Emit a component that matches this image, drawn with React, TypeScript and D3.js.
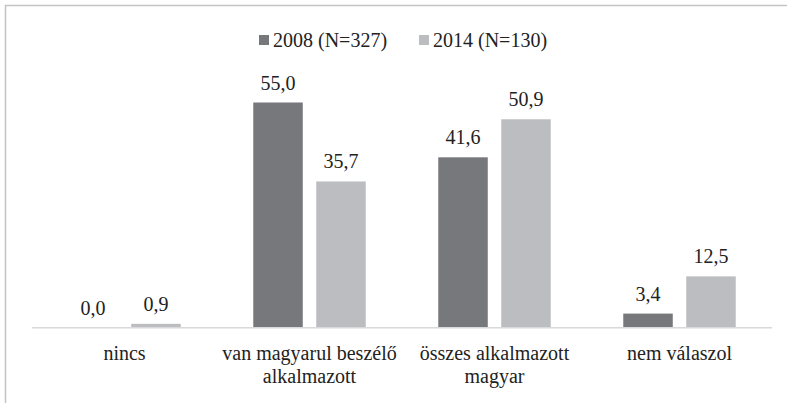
import React, { useEffect, useRef } from "react";
import * as d3 from "d3";

const categories = ["nincs", "van magyarul beszélő alkalmazott", "összes alkalmazott magyar", "nem válaszol"];
const categoryLines = [["nincs"], ["van magyarul beszélő", "alkalmazott"], ["összes alkalmazott", "magyar"], ["nem válaszol"]];
const seriesNames = ["2008 (N=327)", "2014 (N=130)"];
const values2008 = [0.0, 55.0, 41.6, 3.4];
const values2014 = [0.9, 35.7, 50.9, 12.5];
const seriesColors = ["#77787b", "#bcbdc0"];

const W = 787;
const H = 403;
const FONT = "Liberation Serif";

export default function App() {
  const ref = useRef<SVGSVGElement | null>(null);

  useEffect(() => {
    const svg = d3.select(ref.current!);
    svg.selectAll("*").remove();
    const x0 = d3.scaleBand<string>().domain(categories).range([32, 772]).paddingInner(0.392).paddingOuter(0.196);
    const x1 = d3.scaleBand<string>().domain(seriesNames).range([0, x0.bandwidth()]).paddingInner(0.214);
    const y = d3.scaleLinear().domain([0, 55]).range([327.5, 102.5]);
    const series = [values2008, values2014];
    const fmt = (v: number) => v.toFixed(1).replace(".", ",");
    const legendX = [259, 419];

    svg.append("rect").attr("x", 5.5).attr("y", 5.5).attr("width", 900).attr("height", 500)
      .attr("fill", "#fff").attr("stroke", "#c4c4c4").attr("stroke-width", 1.5);

    seriesNames.forEach((s, i) => {
      svg.append("rect").attr("x", legendX[i]).attr("y", 35).attr("width", 10).attr("height", 10).attr("fill", seriesColors[i]);
      svg.append("text").attr("x", legendX[i] + 14).attr("y", 46.5)
        .style("font-family", FONT).style("font-size", "20px").attr("fill", "#222").text(s);
    });

    categories.forEach((c, ci) => {
      const g = svg.append("g").attr("transform", `translate(${x0(c)},0)`);
      seriesNames.forEach((s, si) => {
        const v = series[si][ci];
        const bx = x1(s)!;
        g.append("rect").attr("x", bx).attr("y", y(v)).attr("width", x1.bandwidth()).attr("height", y(0) - y(v)).attr("fill", seriesColors[si]);
        g.append("text").attr("x", bx + x1.bandwidth() / 2).attr("y", y(v) - 13).attr("text-anchor", "middle")
          .style("font-family", FONT).style("font-size", "20px").attr("fill", "#222").text(fmt(v));
      });
    });

    svg.append("line").attr("x1", 32).attr("x2", 772).attr("y1", 327.8).attr("y2", 327.8)
      .attr("stroke", "#d9d9d9").attr("stroke-width", 1.5);

    categories.forEach((c, ci) => {
      const cx = x0(c)! + x0.bandwidth() / 2;
      const t = svg.append("text").attr("x", cx).attr("y", 360).attr("text-anchor", "middle")
        .style("font-family", FONT).style("font-size", "20px").attr("fill", "#222");
      categoryLines[ci].forEach((l, li) => {
        t.append("tspan").attr("x", cx).attr("dy", li === 0 ? 0 : 23).text(l);
      });
    });
  }, []);

  return (
    <svg ref={ref} width={W} height={H} style={{ display: "block", position: "absolute", left: 0, top: 0, background: "#fff" }} />
  );
}
